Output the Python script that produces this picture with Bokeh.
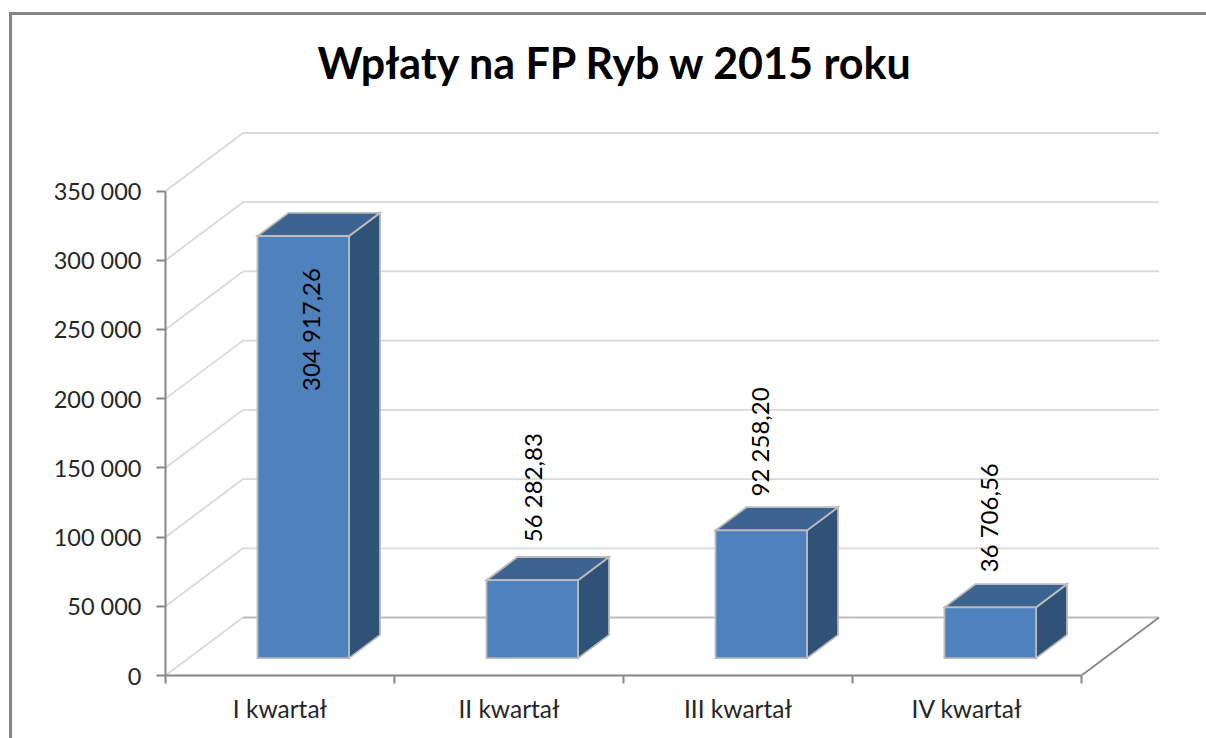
from bokeh.plotting import figure
from bokeh.models import Range1d, FixedTicker, ColumnDataSource
from bokeh.core.properties import value
from bokeh.embed import file_html
from bokeh.resources import INLINE

# ---- data
title_text = "Wpłaty na FP Ryb w 2015 roku"
categories = ["I kwartał", "II kwartał", "III kwartał", "IV kwartał"]
values = [304917.26, 56282.83, 92258.20, 36706.56]
value_labels = ["304 917,26", "56 282,83", "92 258,20", "36 706,56"]
y_ticks = [0, 50000, 100000, 150000, 200000, 250000, 300000, 350000]
y_tick_labels = ["0", "50 000", "100 000", "150 000", "200 000", "250 000", "300 000", "350 000"]

# ---- layout and style
FONT = "Lato"
MARGIN_X, MARGIN_Y, BORDER = 9, 12, 3            # chart-area border, drawn by the page
OX, OY = MARGIN_X + BORDER, MARGIN_Y + BORDER    # where the canvas starts on the page
W, H = 1206 - OX, 738 - OY
LEFT, RIGHT, TOP, BOTTOM = 165, 1170, 100, 675   # frame in page pixels
PX_PER_CAT = 229.0
PX_PER_VAL = 484.5 / 350000
DEPTH_X = 77.5 / PX_PER_CAT      # wall depth in category units
DEPTH_Y = 58.0 / PX_PER_VAL      # wall depth in value units
Z_FRONT, Z_BACK = 0.3, 0.7
BAR_W = 0.40
LABEL_DX_PX = [7, 0, -2, -2]
LABEL_DY_PX = [155, -38, -34, -35]

p = figure(width=W, height=H, output_backend="svg", toolbar_location=None,
           x_range=Range1d(0, (RIGHT - LEFT) / PX_PER_CAT),
           y_range=Range1d(0, (BOTTOM - TOP) / PX_PER_VAL),
           min_border_left=LEFT - OX, min_border_right=OX + W + BORDER - RIGHT,
           min_border_top=TOP - OY, min_border_bottom=OY + H + BORDER - BOTTOM,
           margin=(MARGIN_Y, 0, 0, MARGIN_X),
           styles={"border-left": f"{BORDER}px solid #868686",
                   "border-top": f"{BORDER}px solid #868686",
                   "box-sizing": "content-box"},
           outline_line_color=None, background_fill_color="white", border_fill_color="white")
p.grid.visible = False

# walls
n = len(categories)
p.multi_line(
    xs=[[0, DEPTH_X, n + DEPTH_X] for _ in y_ticks[1:]],
    ys=[[t, t + DEPTH_Y, t + DEPTH_Y] for t in y_ticks[1:]],
    line_color="#d9d9d9", line_width=1.8)
p.line([0, DEPTH_X], [0, DEPTH_Y], line_color="#d9d9d9", line_width=1.8)
p.line([DEPTH_X, n + DEPTH_X], [DEPTH_Y, DEPTH_Y], line_color="#bdbdbd", line_width=1.8)
p.line([n, n + DEPTH_X], [0, DEPTH_Y], line_color="#868686", line_width=1.8)

# bars
def corners(i, v):
    x0 = i + 0.5 - BAR_W / 2
    x1 = x0 + BAR_W
    fx, bx = Z_FRONT * DEPTH_X, Z_BACK * DEPTH_X
    fy, by = Z_FRONT * DEPTH_Y, Z_BACK * DEPTH_Y
    front = ([x0 + fx, x1 + fx, x1 + fx, x0 + fx], [fy, fy, v + fy, v + fy])
    top = ([x0 + fx, x1 + fx, x1 + bx, x0 + bx], [v + fy, v + fy, v + by, v + by])
    side = ([x1 + fx, x1 + bx, x1 + bx, x1 + fx], [fy, by, v + by, v + fy])
    return front, top, side

faces = [corners(i, v) for i, v in enumerate(values)]
for idx, color in [(2, "#315277"), (1, "#3d6491"), (0, "#4f81bd")]:
    p.patches(xs=[f[idx][0] for f in faces], ys=[f[idx][1] for f in faces],
              fill_color=color, line_color="#bcbcbc", line_width=1.8, line_join="miter")

# value labels
src = ColumnDataSource(dict(
    x=[i + 0.5 + Z_FRONT * DEPTH_X for i in range(n)],
    y=[v + Z_FRONT * DEPTH_Y for v in values],
    text=value_labels, dx=LABEL_DX_PX, dy=LABEL_DY_PX))
p.text(x="x", y="y", text="text", source=src, x_offset="dx", y_offset="dy", angle=90,
       angle_units="deg", text_align="left", text_baseline="middle",
       text_font=value(FONT), text_font_size="24px", text_color="#000000")

# axes
ya = p.yaxis[0]
ya.ticker = FixedTicker(ticks=y_ticks)
ya.major_label_overrides = {t: s for t, s in zip(y_ticks, y_tick_labels)}
ya.bounds = (0, 350000)
ya.major_tick_out = 9
ya.major_tick_in = 0
ya.minor_tick_out = 0
ya.minor_tick_in = 0
ya.major_label_standoff = 15

xa = p.xaxis[0]
centers = [i + 0.5 for i in range(n)]
xa.ticker = FixedTicker(ticks=centers, minor_ticks=list(range(n + 1)))
xa.major_label_overrides = {c: s for c, s in zip(centers, categories)}
xa.bounds = (0, n)
xa.major_tick_out = 0
xa.major_tick_in = 0
xa.minor_tick_out = 8
xa.minor_tick_in = 0
xa.major_label_standoff = 10

for a, size in ((ya, "23.5px"), (xa, "24.5px")):
    a.axis_line_color = "#868686"
    a.axis_line_width = 2
    a.major_tick_line_color = "#868686"
    a.major_tick_line_width = 2
    a.minor_tick_line_color = "#868686"
    a.minor_tick_line_width = 2
    a.major_label_text_font = FONT
    a.major_label_text_font_size = size
    a.major_label_text_color = "#262626"

# title
p.title.text = title_text
p.title.text_font = FONT
p.title.text_font_size = "43px"
p.title.text_font_style = "bold"
p.title.text_color = "#000000"
p.title.align = "left"
p.title.offset = 152
p.title.standoff = 26

open("out.html", "w").write(file_html(p, INLINE))
